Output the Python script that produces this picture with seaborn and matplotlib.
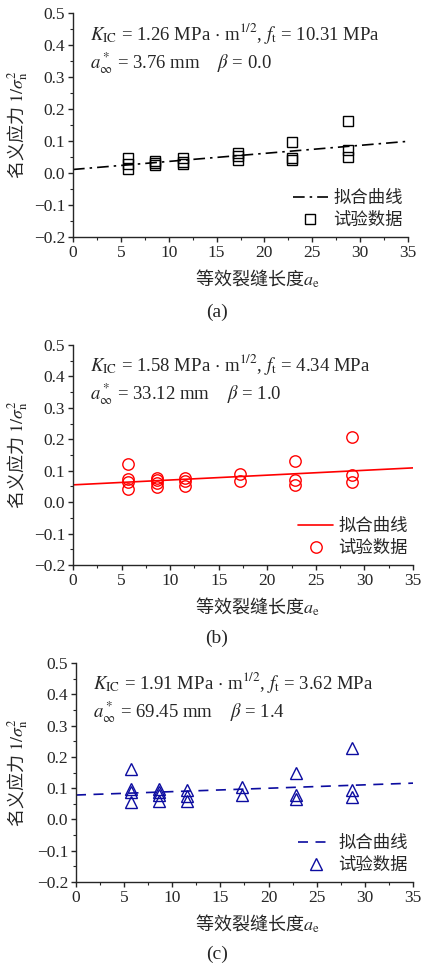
# plot.py
"""Nominal stress vs equivalent crack length, three panels (a)(b)(c)."""

import numpy as np
import pandas as pd
import seaborn as sns
import matplotlib.pyplot as plt
from matplotlib.ticker import MultipleLocator

# ---- data ----
# panel (a)
x_a = [5.7, 5.7, 5.7, 8.6, 8.6, 8.6, 11.5, 11.5, 11.5, 17.2, 17.2, 17.2,
       22.9, 22.9, 22.9, 28.7, 28.7, 28.7]
y_a = [0.047, 0.028, 0.013, 0.039, 0.031, 0.024, 0.046, 0.034, 0.027,
       0.063, 0.052, 0.042, 0.097, 0.047, 0.042, 0.161, 0.073, 0.050]
fit_x_a = [0, 35]
fit_y_a = [0.011, 0.099]

# panel (b)
x_b = [5.7, 5.7, 5.7, 5.7, 8.6, 8.6, 8.6, 8.6, 11.5, 11.5, 11.5,
       17.2, 17.2, 22.9, 22.9, 22.9, 28.7, 28.7, 28.7]
y_b = [0.121, 0.074, 0.065, 0.041, 0.078, 0.070, 0.062, 0.049, 0.077, 0.068, 0.052,
       0.089, 0.067, 0.130, 0.070, 0.056, 0.206, 0.085, 0.063]
fit_x_b = [0, 35]
fit_y_b = [0.055, 0.109]

# panel (c)
x_c = [5.7, 5.7, 5.7, 5.7, 8.6, 8.6, 8.6, 8.6, 11.5, 11.5, 11.5,
       17.2, 17.2, 22.9, 22.9, 22.9, 28.7, 28.7, 28.7]
y_c = [0.161, 0.097, 0.087, 0.056, 0.097, 0.087, 0.078, 0.058, 0.095, 0.076, 0.060,
       0.103, 0.079, 0.148, 0.079, 0.065, 0.228, 0.095, 0.071]
fit_x_c = [0, 35]
fit_y_c = [0.078, 0.116]

notes = [
    (r'$K_{\rm IC}$ = 1.26 MPa $\cdot$ m$^{1/2}$, $f_{\rm t}$ = 10.31 MPa',
     r'$a_\infty^*$ = 3.76 mm    $\beta$ = 0.0'),
    (r'$K_{\rm IC}$ = 1.58 MPa $\cdot$ m$^{1/2}$, $f_{\rm t}$ = 4.34 MPa',
     r'$a_\infty^*$ = 33.12 mm    $\beta$ = 1.0'),
    (r'$K_{\rm IC}$ = 1.91 MPa $\cdot$ m$^{1/2}$, $f_{\rm t}$ = 3.62 MPa',
     r'$a_\infty^*$ = 69.45 mm    $\beta$ = 1.4'),
]
captions = ['(a)', '(b)', '(c)']
fit_label = '拟合曲线'
data_label = '试验数据'
xlabel = '等效裂缝长度$a_{\\rm e}$'
ylabel = '名义应力 $1/\\sigma_{\\rm n}^2$'

sns.set_style('ticks')
plt.rcParams['font.family'] = ['Liberation Serif', 'Noto Sans CJK SC']
plt.rcParams['mathtext.fontset'] = 'stix'
plt.rcParams['axes.linewidth'] = 1.0

fig = plt.figure(figsize=(4.24, 9.67), dpi=100)
W, H = 424, 967
# axes boxes in pixels: left, right, top, bottom
boxes = [(73, 408, 13, 237), (73, 413, 345, 565), (76, 413, 663, 882)]
caption_y = [312, 638, 954]

panels = [
    (x_a, y_a, fit_x_a, fit_y_a, 'black', 's', 7.5, (0, (7, 3, 1.5, 3))),
    (x_b, y_b, fit_x_b, fit_y_b, '#ff0000', 'o', 8.2, '-'),
    (x_c, y_c, fit_x_c, fit_y_c, '#0c0ca0', '^', 8.5, (0, (6, 4.5))),
]

for i, (xs, ys, fx, fy, color, marker, msize, ls) in enumerate(panels):
    l, r, t, b = boxes[i]
    ax = fig.add_axes([l / W, 1 - b / H, (r - l) / W, (b - t) / H])
    sns.lineplot(x=fx, y=fy, ax=ax, color=color, linewidth=1.2,
                 linestyle=ls, label=fit_label)
    df = pd.DataFrame({'x': xs, 'y': ys})
    ax.plot(df['x'], df['y'], linestyle='none', marker=marker, markersize=msize,
            markerfacecolor='none', markeredgecolor=color, markeredgewidth=1.0,
            label=data_label)

    ax.set_xlim(0, 35)
    ax.set_ylim(-0.2, 0.5)
    ax.xaxis.set_major_locator(MultipleLocator(5))
    ax.xaxis.set_minor_locator(MultipleLocator(2.5))
    ax.yaxis.set_major_locator(MultipleLocator(0.1))
    ax.yaxis.set_minor_locator(MultipleLocator(0.05))
    ax.yaxis.set_major_formatter(plt.FuncFormatter(lambda v, p: f'{v:.1f}'.replace('-', '\u2212')))
    ax.tick_params(which='major', length=3.5, width=1.0, labelsize=12.5, direction='out', pad=2)
    ax.tick_params(which='minor', length=2, width=0.8, direction='out')
    sns.despine(ax=ax)

    ax.set_xlabel(xlabel, fontsize=13, family='Noto Sans CJK SC')
    ax.xaxis.set_label_coords((257 - l) / (r - l), -31 / (b - t))
    ax.set_ylabel(ylabel, fontsize=13, family='Noto Sans CJK SC')
    ax.yaxis.set_label_coords((30 - l) / (r - l), 0.5)

    ax.text(0.05, 0.91, notes[i][0], transform=ax.transAxes, fontsize=13.5, va='center')
    ax.text(0.05, 0.777, notes[i][1], transform=ax.transAxes, fontsize=13.5, va='center')

    ax.legend(loc='lower right', bbox_to_anchor=(1.02, -0.02), frameon=False,
              fontsize=12.5, handlelength=2.0, handletextpad=0.3,
              labelspacing=0.35, borderaxespad=0.3)

    fig.text(217 / W, 1 - caption_y[i] / H, captions[i], fontsize=14,
             ha='center', va='center')

fig.savefig('out.png', dpi=100)
